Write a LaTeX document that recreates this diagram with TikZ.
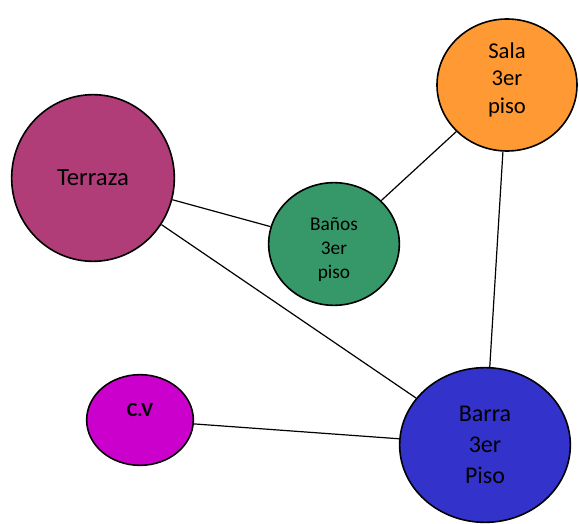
\documentclass[tikz,border=0pt]{standalone}
\usepackage{fontspec}
\setmainfont{Carlito}
\usetikzlibrary{shapes.geometric}

\definecolor{terrazacol}{RGB}{176,60,120}
\definecolor{banoscol}{RGB}{54,152,104}
\definecolor{salacol}{RGB}{255,153,51}
\definecolor{cvcol}{RGB}{204,0,204}
\definecolor{barracol}{RGB}{51,51,204}

\begin{document}
\begin{tikzpicture}[x=0.75pt,y=-0.75pt]
      \tikzset{
        every node/.style={ellipse,draw,line width=1.2pt,inner sep=0pt,align=center},
        room/.style={font=\fontsize{17pt}{20.5pt}\selectfont}
      }
      \useasboundingbox (0,0) rectangle (579,524);

      \node[fill=terrazacol,minimum width=122pt,minimum height=125pt,font=\fontsize{18.5pt}{22pt}\selectfont] (terraza) at (93,178) {Terraza};
      \node[fill=banoscol,minimum width=98pt,minimum height=92pt,font=\fontsize{14.5pt}{18pt}\selectfont] (banos) at (334,244) {\raisebox{-4pt}[\height][\depth]{\begin{tabular}{@{}c@{}}Baños\\3er\\piso\end{tabular}}};
      \node[room,fill=salacol,minimum width=105pt,minimum height=99pt] (sala) at (507,85) {\raisebox{3.5pt}[\height][\depth]{\begin{tabular}{@{}c@{}}Sala\\3er\\piso\end{tabular}}};
      \node[fill=cvcol,minimum width=80pt,minimum height=68pt,font=\fontsize{15pt}{18pt}\selectfont\bfseries] (cv) at (140,420) {\raisebox{7.5pt}[\height][\depth]{C.V}};
      \node[fill=barracol,minimum width=128pt,minimum height=116pt,font=\fontsize{18pt}{23pt}\selectfont] (barra) at (485,445) {Barra\\3er\\ Piso};

      \draw[line width=0.9pt] (terraza) edge[] (banos)
            (banos) edge[] (sala)
            (sala) edge[] (barra)
            (terraza) edge[] (barra)
            (cv) edge[] (barra);
    \end{tikzpicture}
\end{document}
